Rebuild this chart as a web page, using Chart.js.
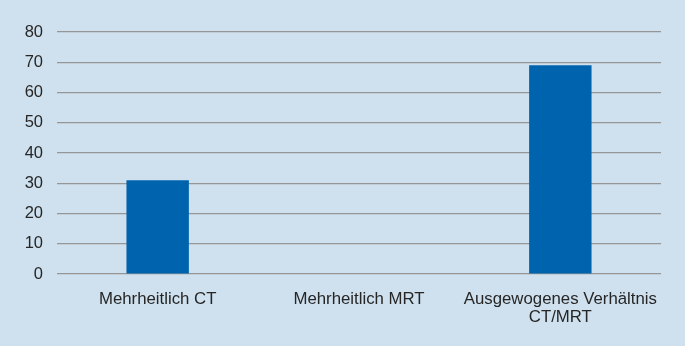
<!DOCTYPE html>
<html><head><meta charset="utf-8">
<script src="https://cdn.jsdelivr.net/npm/chart.js@4/dist/chart.umd.min.js"></script>
<style>html,body{margin:0;padding:0;background:#cfe1ee;}#wrap{width:685px;height:346px;}</style>
</head><body><div id="wrap"><canvas id="c" width="685" height="346"></canvas></div>
<script>
const categories = [["Mehrheitlich CT"], ["Mehrheitlich MRT"], ["Ausgewogenes Verhältnis", "CT/MRT"]];
const values = [31, 0, 69];
const yTicks = [0, 10, 20, 30, 40, 50, 60, 70, 80];

new Chart(document.getElementById('c'), {
  type: 'bar',
  data: { labels: categories, datasets: [{ data: values, backgroundColor: '#0063ae', categoryPercentage: 1, barPercentage: 0.31 }] },
  options: {
    responsive: false, animation: false, devicePixelRatio: 1,
    layout: { padding: { left: 0, right: 24, top: 32, bottom: 0 } },
    plugins: { legend: { display: false }, tooltip: { enabled: false } },
    scales: {
      x: {
        grid: { display: false }, border: { display: false },
        ticks: { color: '#262626', font: { family: 'Liberation Sans', size: 16.8, lineHeight: 1.1 }, maxRotation: 0, padding: 8 },
        afterFit: s => { s.height = 72; }
      },
      y: {
        min: 0, max: 80,
        afterBuildTicks: s => { s.ticks = yTicks.map(v => ({ value: v })); },
        grid: { color: '#969696', lineWidth: 1.2, drawTicks: false },
        border: { display: false },
        ticks: { color: '#262626', font: { family: 'Liberation Sans', size: 16.5 }, padding: 14 },
        afterFit: s => { s.width = 57; }
      }
    }
  }
});
</script></body></html>
